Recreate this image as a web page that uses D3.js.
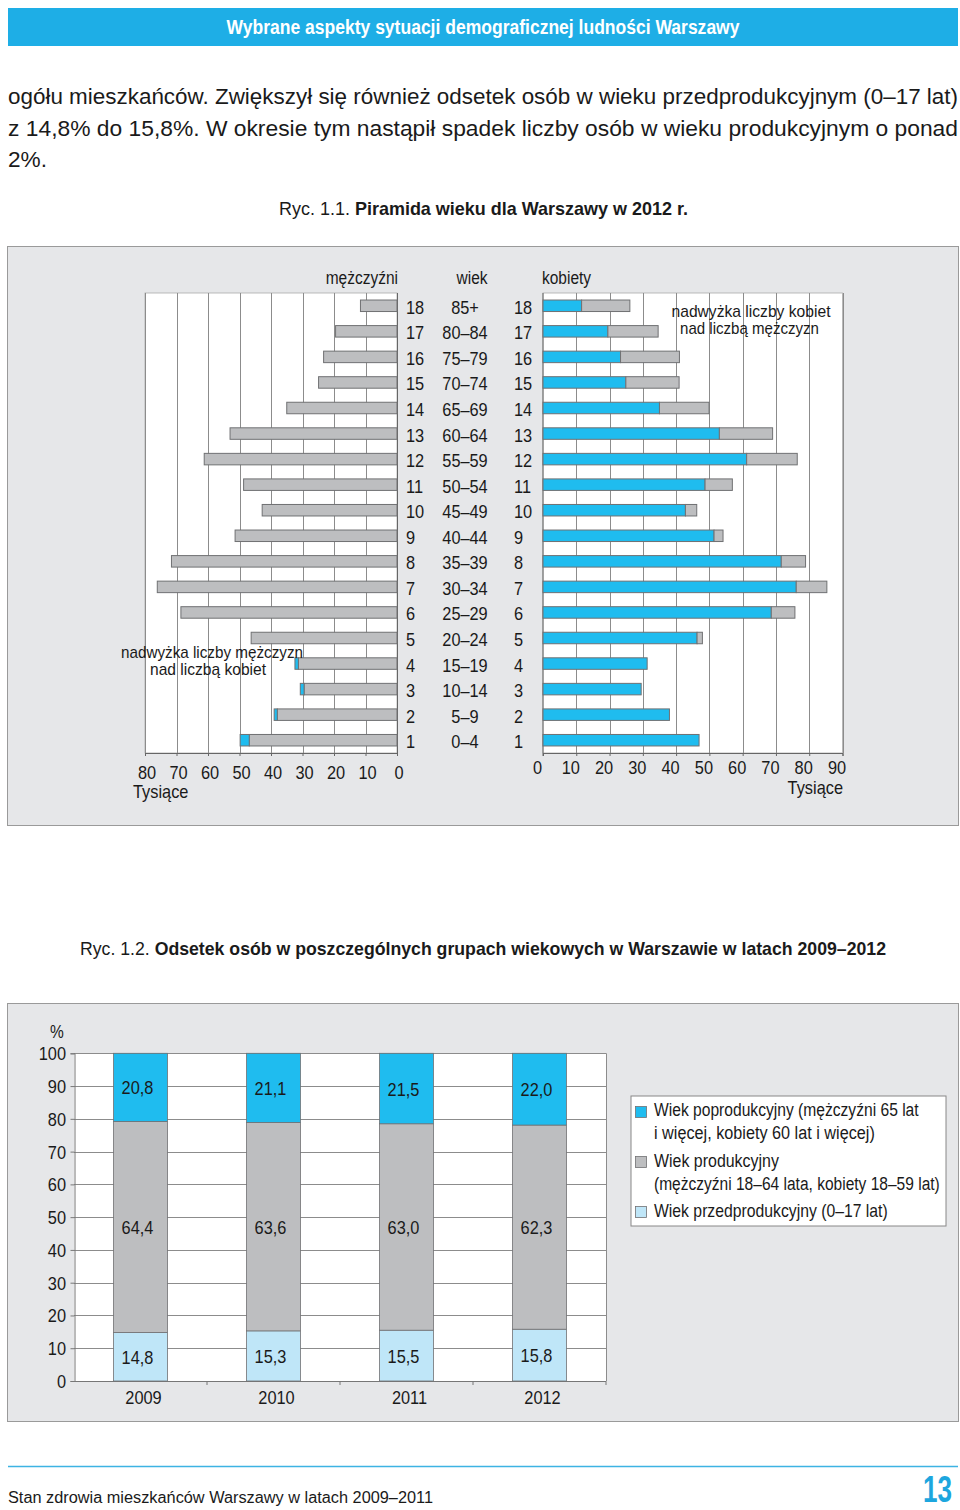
<!DOCTYPE html>
<html><head><meta charset="utf-8">
<script src="https://cdn.jsdelivr.net/npm/d3@7"></script>
<style>
html,body{margin:0;padding:0;background:#fff;}
svg{display:block;}
.n{font-family:"Liberation Sans","Arial",sans-serif;}
.r{font-family:"Liberation Sans","Arial",sans-serif;}
</style></head>
<body>
<script>
// ---------- DATA ----------
const ageNums = [1,2,3,4,5,6,7,8,9,10,11,12,13,14,15,16,17,18];
const ageLabels = ["0–4","5–9","10–14","15–19","20–24","25–29","30–34","35–39","40–44","45–49","50–54","55–59","60–64","65–69","70–74","75–79","80–84","85+"];
const men   = [49.8,39.0,30.7,32.4,46.3,68.6,76.1,71.6,51.4,42.8,48.7,61.2,53.0,35.0,24.9,23.3,19.5,11.6];
const women = [46.9,38.0,29.5,31.3,47.9,75.7,85.3,78.9,54.1,46.2,56.9,76.4,69.0,49.9,40.9,41.0,34.6,26.1];
const menTicks = [80,70,60,50,40,30,20,10,0];
const womenTicks = [0,10,20,30,40,50,60,70,80,90];

const years = ["2009","2010","2011","2012"];
const preProd  = [14.8,15.3,15.5,15.8];
const prod     = [64.4,63.6,63.0,62.3];
const postProd = [20.8,21.1,21.5,22.0];
const pctTicks = [0,10,20,30,40,50,60,70,80,90,100];
const legendLines = [
  ["Wiek poprodukcyjny (mężczyźni 65 lat","i więcej, kobiety 60 lat i więcej)"],
  ["Wiek produkcyjny","(mężczyźni 18–64 lata, kobiety 18–59 lat)"],
  ["Wiek przedprodukcyjny (0–17 lat)"]
];

// ---------- STYLE ----------
const BLUE = "#1fbcef", GREY = "#bdbec0", LIGHT = "#bfe6f8", OUT = "#707173";
const GRID = "#8c8c8c";
const INK = "#1a1a1a";

const svg = d3.select("body").append("svg").attr("width",960).attr("height",1510);

// helper: condensed text drawn by horizontal scaling
function condensed(parent, x, y, str, size, targetW, anchor, attrs){
  const g = parent.append("g");
  const t = g.append("text").attr("class","n").attr("font-size",size).attr("fill",INK).text(str);
  if(attrs) Object.entries(attrs).forEach(([k,v])=>t.attr(k,v));
  const l = t.node().getComputedTextLength();
  const sx = targetW / l;
  const off = anchor==="end" ? -targetW : anchor==="middle" ? -targetW/2 : 0;
  g.attr("transform",`translate(${x+off},${y}) scale(${sx.toFixed(4)},1)`);
  return t;
}

// Header
svg.append("rect").attr("x",8).attr("y",8).attr("width",950).attr("height",38).attr("fill","#1eaee6");
svg.append("text").attr("class","n").attr("x",483).attr("y",34).attr("text-anchor","middle")
  .attr("font-size",20).attr("font-weight","bold").attr("fill","#fff")
  .attr("textLength",513).attr("lengthAdjust","spacingAndGlyphs")
  .text("Wybrane aspekty sytuacji demograficznej ludności Warszawy");

// Paragraph
const para = [
  {t:"ogółu mieszkańców. Zwiększył się również odsetek osób w wieku przedprodukcyjnym (0–17 lat)", y:104, w:950},
  {t:"z 14,8% do 15,8%. W okresie tym nastąpił spadek liczby osób w wieku produkcyjnym o ponad", y:136, w:950},
  {t:"2%.", y:167, w:39}
];
para.forEach(p=>{
  svg.append("text").attr("class","r").attr("x",8).attr("y",p.y).attr("font-size",22).attr("fill",INK)
    .attr("textLength",p.w).attr("lengthAdjust","spacingAndGlyphs").text(p.t);
});

// Caption 1
const c1 = svg.append("text").attr("class","n").attr("x",279).attr("y",215).attr("font-size",19).attr("fill",INK)
  .attr("textLength",409).attr("lengthAdjust","spacingAndGlyphs");
c1.append("tspan").text("Ryc. 1.1. ");
c1.append("tspan").attr("font-weight","bold").text("Piramida wieku dla Warszawy w 2012 r.");

// Panel 1
svg.append("rect").attr("x",7.5).attr("y",246.5).attr("width",951).attr("height",579).attr("fill","#e6e7e9").attr("stroke","#9a9a9a");

const xL = d3.scaleLinear().domain([0,80]).range([397,145]);
const xR = d3.scaleLinear().domain([0,90]).range([543,842.5]);
const yP = d3.scaleBand().domain(ageNums.slice().reverse()).range([293,753]).paddingInner(0.55).paddingOuter(0.275);
const yTop = 293, yBot = 753;

// plot backgrounds
svg.append("rect").attr("x",xL(80)).attr("y",yTop).attr("width",xL(0)-xL(80)).attr("height",yBot-yTop).attr("fill","#fff").attr("stroke","#aaa").attr("stroke-width",0.8);
svg.append("rect").attr("x",xR(0)).attr("y",yTop).attr("width",xR(90)-xR(0)).attr("height",yBot-yTop).attr("fill","#fff").attr("stroke","#aaa").attr("stroke-width",0.8);

// gridlines
svg.append("g").selectAll("line").data(menTicks.filter(d=>d>0)).join("line")
  .attr("x1",d=>Math.round(xL(d))+0.5).attr("x2",d=>Math.round(xL(d))+0.5).attr("y1",yTop).attr("y2",yBot)
  .attr("stroke",GRID).attr("stroke-width",1);
svg.append("g").selectAll("line").data(womenTicks.filter(d=>d>0)).join("line")
  .attr("x1",d=>Math.round(xR(d))+0.5).attr("x2",d=>Math.round(xR(d))+0.5).attr("y1",yTop).attr("y2",yBot)
  .attr("stroke",GRID).attr("stroke-width",1);

// axes
const axL = d3.axisBottom(xL).tickValues(menTicks).tickSize(3).tickFormat("");
svg.append("g").attr("transform",`translate(0,${yBot})`).call(axL)
  .call(g=>g.selectAll("path,line").attr("stroke","#666"));
const axR = d3.axisBottom(xR).tickValues(womenTicks).tickSize(3).tickFormat("");
svg.append("g").attr("transform",`translate(0,${yBot})`).call(axR)
  .call(g=>g.selectAll("path,line").attr("stroke","#666"));
svg.append("line").attr("x1",397.5).attr("x2",397.5).attr("y1",yTop).attr("y2",yBot+3).attr("stroke","#666");
svg.append("line").attr("x1",543).attr("x2",543).attr("y1",yTop).attr("y2",yBot+3).attr("stroke","#666");

// tick labels
svg.append("g").selectAll("text").data(menTicks).join("text").attr("class","n")
  .attr("x",d=>xL(d)+2).attr("y",779).attr("text-anchor","middle").attr("font-size",19).attr("fill",INK).text(d=>d);
svg.append("g").selectAll("text").data(womenTicks).join("text").attr("class","n")
  .attr("x",d=>xR(d)-5.5).attr("y",774).attr("text-anchor","middle").attr("font-size",19).attr("fill",INK).text(d=>d);
svg.append("text").attr("class","n").attr("x",133).attr("y",798).attr("font-size",19).attr("fill",INK).text("Tysiące");
svg.append("text").attr("class","n").attr("x",843).attr("y",794).attr("text-anchor","end").attr("font-size",19).attr("fill",INK).text("Tysiące");

// bars
const rowsData = ageNums.map((n,i)=>({n, m:men[i], w:women[i], lab:ageLabels[i]}));
const bh = yP.bandwidth();
const bars = svg.append("g").attr("stroke",OUT).attr("stroke-width",1);
rowsData.forEach(d=>{
  const mn = Math.min(d.m,d.w);
  const y = yP(d.n);
  bars.append("rect").attr("x",xL(mn)).attr("y",y).attr("width",xL(0)-xL(mn)).attr("height",bh).attr("fill",GREY);
  if(d.m>d.w) bars.append("rect").attr("x",xL(d.m)).attr("y",y).attr("width",xL(d.w)-xL(d.m)).attr("height",bh).attr("fill",BLUE);
  bars.append("rect").attr("x",xR(0)).attr("y",y).attr("width",xR(mn)-xR(0)).attr("height",bh).attr("fill",BLUE);
  if(d.w>d.m) bars.append("rect").attr("x",xR(d.m)).attr("y",y).attr("width",xR(d.w)-xR(d.m)).attr("height",bh).attr("fill",GREY);
});

// row labels
const rl = svg.append("g").attr("font-size",19).attr("fill",INK);
rowsData.forEach(d=>{
  const cy = yP(d.n)+bh/2+8;
  rl.append("text").attr("class","n").attr("x",406).attr("y",cy).text(d.n);
  rl.append("text").attr("class","n").attr("x",465).attr("y",cy).attr("text-anchor","middle").text(d.lab);
  rl.append("text").attr("class","n").attr("x",514).attr("y",cy).text(d.n);
});

// headings
const hd = svg.append("g").attr("font-size",18).attr("fill",INK);
hd.append("text").attr("class","n").attr("x",398).attr("y",284).attr("text-anchor","end").text("mężczyźni");
hd.append("text").attr("class","n").attr("x",472).attr("y",284).attr("text-anchor","middle").text("wiek");
hd.append("text").attr("class","n").attr("x",542).attr("y",284).text("kobiety");

// annotations
const an = svg.append("g").attr("font-size",17).attr("fill",INK).attr("text-anchor","middle");
an.append("text").attr("class","n").attr("x",751).attr("y",317).attr("textLength",159).attr("lengthAdjust","spacingAndGlyphs").text("nadwyżka liczby kobiet");
an.append("text").attr("class","n").attr("x",749.5).attr("y",334).attr("textLength",139).attr("lengthAdjust","spacingAndGlyphs").text("nad liczbą mężczyzn");
an.append("text").attr("class","n").attr("x",212).attr("y",658).attr("textLength",182).attr("lengthAdjust","spacingAndGlyphs").text("nadwyżka liczby mężczyzn");
an.append("text").attr("class","n").attr("x",208).attr("y",675).attr("textLength",116).attr("lengthAdjust","spacingAndGlyphs").text("nad liczbą kobiet");

// Caption 2
const c2 = svg.append("text").attr("class","n").attr("x",80).attr("y",955).attr("font-size",19).attr("fill",INK)
  .attr("textLength",806).attr("lengthAdjust","spacingAndGlyphs");
c2.append("tspan").text("Ryc. 1.2. ");
c2.append("tspan").attr("font-weight","bold").text("Odsetek osób w poszczególnych grupach wiekowych w Warszawie w latach 2009–2012");

// Panel 2
svg.append("rect").attr("x",7.5).attr("y",1003.5).attr("width",951).attr("height",418).attr("fill","#e6e7e9").attr("stroke","#9a9a9a");

const xB = d3.scaleBand().domain(years).range([74,606]).paddingInner(0.594).paddingOuter(0.297);
const yB = d3.scaleLinear().domain([0,100]).range([1381,1053.3]);

svg.append("rect").attr("x",74).attr("y",yB(100)).attr("width",532).attr("height",yB(0)-yB(100)).attr("fill","#fff");
svg.append("g").selectAll("line").data(pctTicks.filter(d=>d>0)).join("line")
  .attr("x1",74).attr("x2",606).attr("y1",d=>Math.round(yB(d))+0.5).attr("y2",d=>Math.round(yB(d))+0.5)
  .attr("stroke",GRID);
svg.append("line").attr("x1",606.5).attr("x2",606.5).attr("y1",yB(100)).attr("y2",yB(0)).attr("stroke",GRID);

// y axis
const axY = d3.axisLeft(yB).tickValues(pctTicks).tickSize(4).tickFormat("");
svg.append("g").attr("transform","translate(74.5,0)").call(axY).call(g=>g.selectAll("path,line").attr("stroke","#777"));
svg.append("g").selectAll("text").data(pctTicks).join("text").attr("class","n")
  .attr("x",66).attr("y",d=>yB(d)+7).attr("text-anchor","end").attr("font-size",19).attr("fill",INK).text(d=>d);
svg.append("text").attr("class","n").attr("x",57).attr("y",1038).attr("text-anchor","middle").attr("font-size",18).attr("fill",INK).text("%");

// x axis
svg.append("line").attr("x1",74).attr("x2",606).attr("y1",1381.5).attr("y2",1381.5).attr("stroke","#777");
const bounds = years.map((y,i)=>74+xB.step()*(i+1));
svg.append("g").selectAll("line").data(bounds).join("line")
  .attr("x1",d=>d).attr("x2",d=>d).attr("y1",1381).attr("y2",1385).attr("stroke","#777");
svg.append("g").selectAll("text").data(years).join("text").attr("class","n")
  .attr("x",d=>xB(d)+xB.bandwidth()/2+3).attr("y",1404).attr("text-anchor","middle").attr("font-size",19).attr("fill",INK).text(d=>d);

// stacked bars
const stackData = years.map((y,i)=>({year:y, pre:preProd[i], prod:prod[i], post:postProd[i]}));
const keys = ["pre","prod","post"];
const colors = {pre:LIGHT, prod:GREY, post:BLUE};
const series = d3.stack().keys(keys)(stackData);
const sg = svg.append("g");
series.forEach(s=>{
  s.forEach(p=>{
    const top = Math.min(p[1],100);
    sg.append("rect").attr("x",xB(p.data.year)).attr("y",yB(top)).attr("width",xB.bandwidth())
      .attr("height",yB(p[0])-yB(top)).attr("fill",colors[s.key]).attr("stroke",OUT).attr("stroke-width",0.8);
    sg.append("text").attr("class","n").attr("x",xB(p.data.year)+xB.bandwidth()/2-3).attr("y",yB((p[0]+top)/2)+7)
      .attr("text-anchor","middle").attr("font-size",19).attr("fill",INK)
      .text(d3.format(".1f")(p.data[s.key]).replace(".",","));
  });
});

// legend
svg.append("rect").attr("x",631).attr("y",1096).attr("width",315).attr("height",130).attr("fill","#fff").attr("stroke","#888");
const legColors = [BLUE, GREY, LIGHT];
const legSq = [1106, 1156, 1206];
const legBase = [[1116,1139],[1167,1190],[1217]];
const legW = [[265,221],[125,286],[234]];
const legG = svg.append("g");
legendLines.forEach((ls,i)=>{
  legG.append("rect").attr("x",635.5).attr("y",legSq[i]+0.5).attr("width",11).attr("height",11).attr("fill",legColors[i]).attr("stroke",OUT).attr("stroke-width",0.8);
  ls.forEach((t,j)=>{
    condensed(legG, 654, legBase[i][j], t, 19, legW[i][j], "start").classed("leg",true);
  });
});

// footer
svg.append("line").attr("x1",8).attr("x2",958).attr("y1",1466.5).attr("y2",1466.5).attr("stroke","#3db3e3").attr("stroke-width",1.5);
svg.append("text").attr("class","r").attr("x",8).attr("y",1503).attr("font-size",16).attr("fill",INK)
  .attr("textLength",425).attr("lengthAdjust","spacingAndGlyphs").text("Stan zdrowia mieszkańców Warszawy w latach 2009–2011");
condensed(svg, 952, 1502, "13", 37, 29, "end", {"font-weight":"bold","fill":"#1da6de"}).classed("leg",true);

// condense the remaining narrow-style texts (the source uses a condensed face)
svg.selectAll("text.n").each(function(){
  if(this.classList.contains("leg")) return;
  if(!this.getAttribute("textLength")){
    const l = this.getComputedTextLength();
    this.setAttribute("textLength", (l*0.86).toFixed(1));
    this.setAttribute("lengthAdjust","spacingAndGlyphs");
  }
});
</script>
</body></html>
